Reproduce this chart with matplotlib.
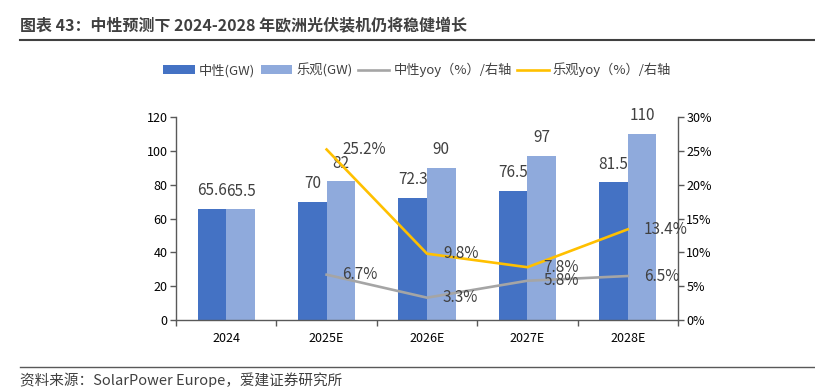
import numpy as np
import matplotlib
matplotlib.use("Agg")
import matplotlib.pyplot as plt
from matplotlib.lines import Line2D
from matplotlib.ticker import FuncFormatter

plt.rcParams['font.family'] = ['Noto Sans CJK SC', 'DejaVu Sans']

# Data
categories = ['2024', '2025E', '2026E', '2027E', '2028E']
neutral_gw = [65.6, 70, 72.3, 76.5, 81.5]
optimistic_gw = [65.5, 82, 90, 97, 110]
neutral_yoy = [np.nan, 6.7, 3.3, 5.8, 6.5]
optimistic_yoy = [np.nan, 25.2, 9.8, 7.8, 13.4]

txt = '#404040'
c_neu = '#4472C4'
c_opt = '#8FAADC'
c_gray = '#A5A5A5'
c_yel = '#FFC000'


def main():
    fig = plt.figure(figsize=(8.15, 3.87), dpi=100)
    ax = fig.add_axes([176 / 815, 1 - 320 / 387, 502 / 815, 203 / 387])
    ax2 = ax.twinx()

    x = np.arange(len(categories))
    w = 0.285

    # Bars
    b1 = ax.bar(x - w / 2, neutral_gw, w, color=c_neu, label='中性(GW)')
    b2 = ax.bar(x + w / 2, optimistic_gw, w, color=c_opt, label='乐观(GW)')
    for xi, v in zip(x - w / 2, neutral_gw):
        ax.annotate(f'{v:g}', (xi, v), xytext=(0, 13), textcoords='offset points',
                    ha='center', va='center', fontsize=11, color=txt)
    for xi, v in zip(x + w / 2, optimistic_gw):
        ax.annotate(f'{v:g}', (xi, v), xytext=(0, 13), textcoords='offset points',
                    ha='center', va='center', fontsize=11, color=txt)

    # Growth lines on right axis
    l1, = ax2.plot(x, neutral_yoy, color=c_gray, lw=1.9, label='中性yoy（%）/右轴')
    l2, = ax2.plot(x, optimistic_yoy, color=c_yel, lw=1.9, label='乐观yoy（%）/右轴')
    for series in (neutral_yoy, optimistic_yoy):
        for xi, v in zip(x, series):
            if np.isnan(v):
                continue
            ax2.annotate(f'{v:.1f}%', (xi, v), xytext=(11.5, 0), textcoords='offset points',
                         ha='left', va='center', fontsize=11, color=txt)

    # Axes styling
    ax.set_xlim(-0.5, len(categories) - 0.5)
    ax.set_ylim(0, 120)
    ax.set_yticks(np.arange(0, 121, 20))
    ax2.set_ylim(0, 30)
    ax2.set_yticks(np.arange(0, 31, 5))
    ax2.yaxis.set_major_formatter(FuncFormatter(lambda v, p: f'{v:.0f}%'))

    ax.set_xticks(x)
    ax.set_xticklabels(categories)
    ax.set_xticks(np.arange(-0.5, len(categories), 1), minor=True)
    ax.tick_params(axis='x', which='major', length=0, pad=9, labelsize=9, colors='black')
    ax.tick_params(axis='x', which='minor', length=4, width=1, color='#595959')
    ax.tick_params(axis='y', length=4, width=1, color='#595959', labelsize=9,
                   labelcolor='black', pad=2)
    ax2.tick_params(axis='y', length=4, width=1, color='#595959', labelsize=9,
                    labelcolor='black', pad=2)

    for a in (ax, ax2):
        a.spines['top'].set_visible(False)
        for s in ('left', 'right', 'bottom'):
            a.spines[s].set_color('#595959')
            a.spines[s].set_linewidth(1.0)
    ax.spines['right'].set_visible(False)
    ax2.spines['left'].set_visible(False)
    ax2.spines['bottom'].set_visible(False)

    # Legend
    fig.legend([b1, b2, l1, l2], [b1.get_label(), b2.get_label(), l1.get_label(), l2.get_label()],
               loc='center', bbox_to_anchor=(0.512, 1 - 70 / 387), ncol=4, frameon=False,
               fontsize=9.5, handlelength=2.4, handletextpad=0.3, columnspacing=0.4,
               labelcolor=txt)

    # Title, rules and source
    fig.text(20 / 815, 1 - 25 / 387, '图表 43：中性预测下 2024-2028 年欧洲光伏装机仍将稳健增长',
             fontsize=11.5, fontweight='bold', color=txt, ha='left', va='center')
    fig.add_artist(Line2D([20 / 815, 1], [1 - 40 / 387] * 2, transform=fig.transFigure,
                          color='#404040', lw=1.5))
    fig.add_artist(Line2D([20 / 815, 1], [1 - 367 / 387] * 2, transform=fig.transFigure,
                          color='#595959', lw=1.0))
    fig.text(20 / 815, 1 - 380 / 387, '资料来源：SolarPower Europe，爱建证券研究所',
             fontsize=10.5, color=txt, ha='left', va='center')

    fig.savefig('out.png', dpi=100)


if __name__ == "__main__":
    main()
